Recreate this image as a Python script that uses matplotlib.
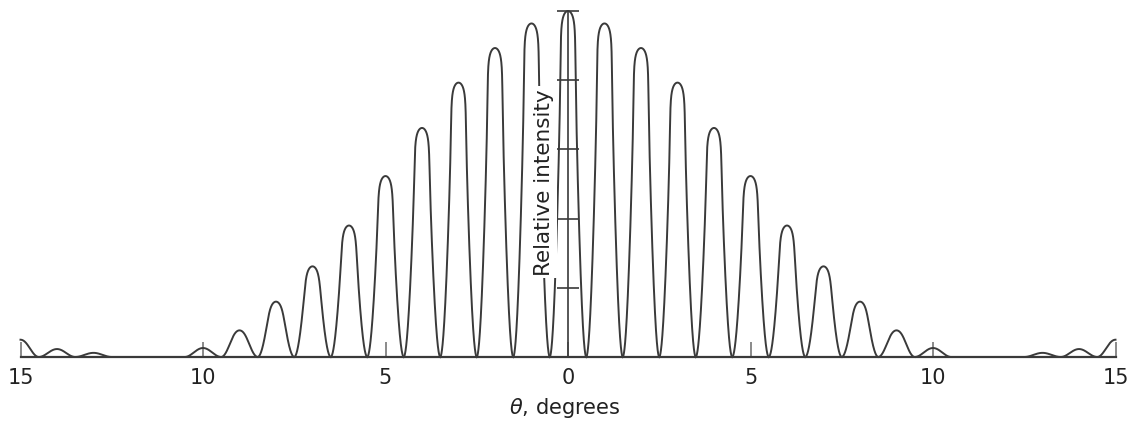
import numpy as np
import matplotlib
matplotlib.use("Agg")
import matplotlib.pyplot as plt
from matplotlib.ticker import FuncFormatter

# Fringe orders (degrees) and peak heights
orders = list(range(-15, 16))
peak_heights_pos = [1.0, 0.964, 0.893, 0.793, 0.662, 0.523, 0.380, 0.262,
                    0.160, 0.077, 0.026, 0.0, 0.0, 0.012, 0.023, 0.050]
x_ticks = [-15, -10, -5, 0, 5, 10, 15]
y_ticks = [0.2, 0.4, 0.6, 0.8, 1.0]

heights = {n: peak_heights_pos[abs(n)] for n in orders}

W, H = 1133, 423
fig = plt.figure(figsize=(W / 100, H / 100), dpi=100)
ax_w_px, ax_h_px = 1095, 346
ax = fig.add_axes([20.5 / W, 66 / H, ax_w_px / W, ax_h_px / H])
px_x = ax_w_px / 30.0   # pixels per degree
px_y = ax_h_px / 1.0    # pixels per unit intensity

# fringe drawing style: cos^2 lobe with a rounded cap of fixed pixel size
cap_a, cap_b, kk = 7.2 / px_x, 20.0, 4

col = "#3a3a3a"
u = np.linspace(-0.5, 0.5, 1201)
for n in orders:
    h = heights[n]
    q = np.cos(np.pi * u) ** 2
    y = h * q
    if h > 0:
        d = (1 - q) * h * px_y               # depth below top in px
        hw_cap = cap_a * np.sqrt(1 - np.exp(-2 * d / cap_b))
        hw_c = np.abs(u)
        hw = np.minimum((hw_c ** kk + hw_cap ** kk) ** (1 / kk), 0.5)
        x = n + np.sign(u) * hw
    else:
        x = n + u
    m = (x >= -15) & (x <= 15)
    ax.plot(x[m], y[m], color=col, lw=1.4, clip_on=False, solid_joinstyle="round")

ax.set_xlim(-15, 15)
ax.set_ylim(0, 1.0)

for s in ["top", "right"]:
    ax.spines[s].set_visible(False)
ax.spines["bottom"].set_color(col)
ax.spines["bottom"].set_linewidth(1.6)
ax.spines["left"].set_position(("data", 0))
ax.spines["left"].set_bounds(0, 1.0)
ax.spines["left"].set_color(col)
ax.spines["left"].set_linewidth(1.2)

ax.set_xticks(x_ticks)
ax.xaxis.set_major_formatter(FuncFormatter(lambda v, p: f"{abs(int(v))}"))
ax.tick_params(axis="x", direction="in", length=11, width=1.2, color="#777777",
               labelsize=15, pad=8, labelcolor="#222222")
ax.set_yticks(y_ticks)
ax.set_yticklabels([])
ax.tick_params(axis="y", direction="inout", length=16, width=1.2, color=col)

ax.set_xlabel(r"$\theta$, degrees", fontsize=15, color="#222222")
ax.xaxis.set_label_coords(0.497, -0.112)

ax.text(-0.65, 0.505, "Relative intensity", rotation=90, ha="center", va="center",
        fontsize=15.5, color="#222222", zorder=5,
        bbox=dict(facecolor="white", edgecolor="none", pad=2))

fig.savefig("out.png", dpi=100)
